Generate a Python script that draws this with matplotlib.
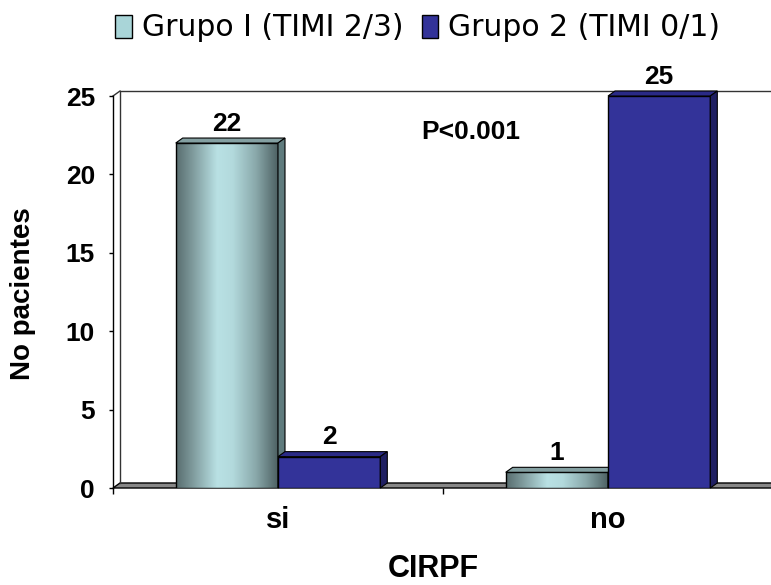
import numpy as np
import matplotlib
matplotlib.use("Agg")
import matplotlib.pyplot as plt
from matplotlib.patches import Polygon, Patch
from matplotlib.colors import LinearSegmentedColormap

# datos
categorias = ["si", "no"]
grupos = ["Grupo I (TIMI 2/3)", "Grupo 2 (TIMI 0/1)"]
grupo1 = [22, 1]
grupo2 = [2, 25]
y_max = 25
y_ticks = [0, 5, 10, 15, 20, 25]

fuente = "Liberation Sans"

W, H = 771, 585
fig = plt.figure(figsize=(W / 100, H / 100), dpi=100)
# ejes en pixeles: izquierda, abajo, ancho, alto
ax_px = (113, 97, 660, 392)
ax = fig.add_axes([ax_px[0] / W, ax_px[1] / H, ax_px[2] / W, ax_px[3] / H])

x0_lim, x1_lim = -0.5, len(categorias) - 0.5
# profundidad del efecto 3D (pixeles -> datos)
dx = 7 * (x1_lim - x0_lim) / ax_px[2]
dy = 5 * y_max / ax_px[3]

ancho = 0.31
desp = [-ancho / 2, ancho / 2]

cil = LinearSegmentedColormap.from_list("cil", [
    (0.0, "#586d6f"), (0.15, "#7c9799"), (0.4, "#b9e1e4"),
    (0.55, "#b3dadd"), (0.78, "#89a8aa"), (1.0, "#4b5e60")])
estilos = [
    dict(top="#84a0a2", side="#5f7b7d"),
    dict(front="#333399", top="#2a2a86", side="#1f1f62"),
]

# piso y pared de fondo
piso = Polygon([(x0_lim, 0), (x0_lim + dx, dy), (x1_lim + dx, dy), (x1_lim + dx, 0)],
               closed=True, facecolor="#878787", edgecolor="black", lw=1, zorder=1,
               clip_on=False)
ax.add_patch(piso)
ax.plot([x0_lim + dx, x0_lim + dx, x1_lim + dx], [dy, y_max + dy, y_max + dy],
        color="#333333", lw=1, clip_on=False, zorder=1)
ax.plot([x0_lim, x0_lim + dx], [y_max, y_max + dy], color="#333333", lw=1,
        clip_on=False, zorder=1)

grad = np.linspace(0, 1, 256).reshape(1, -1)
z = 3
for i, cat in enumerate(categorias):
    for g, valores in enumerate([grupo1, grupo2]):
        h = valores[i]
        xc = i + desp[g]
        xa, xb = xc - ancho / 2, xc + ancho / 2
        st = estilos[g]
        if g == 0:
            rect = ax.bar(xc, h, ancho, facecolor="none", edgecolor="black",
                          lw=1, zorder=z + 0.1)[0]
            im = ax.imshow(grad, cmap=cil, extent=(xa, xb, 0, h), aspect="auto",
                           interpolation="bicubic", zorder=z)
            im.set_clip_path(rect)
        else:
            ax.bar(xc, h, ancho, facecolor=st["front"], edgecolor="black",
                   lw=1, zorder=z + 0.1)
        ax.add_patch(Polygon([(xa, h), (xa + dx, h + dy), (xb + dx, h + dy), (xb, h)],
                             closed=True, facecolor=st["top"], edgecolor="black",
                             lw=0.8, zorder=z + 0.2, clip_on=False))
        ax.add_patch(Polygon([(xb, 0), (xb + dx, dy), (xb + dx, h + dy), (xb, h)],
                             closed=True, facecolor=st["side"], edgecolor="black",
                             lw=0.8, zorder=z + 0.2, clip_on=False))
        ax.annotate(str(h), (xc, h), xytext=(0, 9), textcoords="offset points",
                    ha="center", va="baseline", fontsize=19, fontweight="bold",
                    family=fuente, zorder=10, annotation_clip=False)
        z += 1

ax.text(0.585, 22.7, "P<0.001", ha="center", va="center", fontsize=19,
        fontweight="bold", family=fuente)

ax.set_xlim(x0_lim, x1_lim)
ax.set_ylim(0, y_max)

for s in ["top", "right"]:
    ax.spines[s].set_visible(False)
ax.spines["bottom"].set_visible(False)
ax.spines["left"].set_linewidth(1)

ax.set_yticks(y_ticks)
ax.set_yticklabels([str(t) for t in y_ticks], fontsize=19, fontweight="bold",
                   family=fuente)
ax.tick_params(axis="y", direction="out", length=3, width=1, pad=10)

ax.set_xticks(range(len(categorias)))
ax.set_xticklabels(categorias, fontsize=21, fontweight="bold", family=fuente)
ax.set_xticks([x0_lim, 0.5, x1_lim], minor=True)
ax.tick_params(axis="x", which="major", length=0, pad=13)
ax.tick_params(axis="x", which="minor", direction="out", length=4, width=1)

ax.set_xlabel("CIRPF", fontsize=22, fontweight="bold", family=fuente)
ax.xaxis.set_label_coords(0.485, -0.168)
ax.set_ylabel("No pacientes", fontsize=20, fontweight="bold", family=fuente)
ax.yaxis.set_label_coords(-0.117, 0.495)

handles = [Patch(facecolor="#a9d5d8", edgecolor="black", lw=1),
           Patch(facecolor="#333399", edgecolor="black", lw=1)]
fig.legend(handles, grupos, loc="center", bbox_to_anchor=(0.542, 1 - 28 / H),
           ncol=2, frameon=False, fontsize=21.5,
           handlelength=0.55, handleheight=0.8, handletextpad=0.35,
           columnspacing=0.6, borderpad=0)

fig.savefig("out.png", dpi=100)
